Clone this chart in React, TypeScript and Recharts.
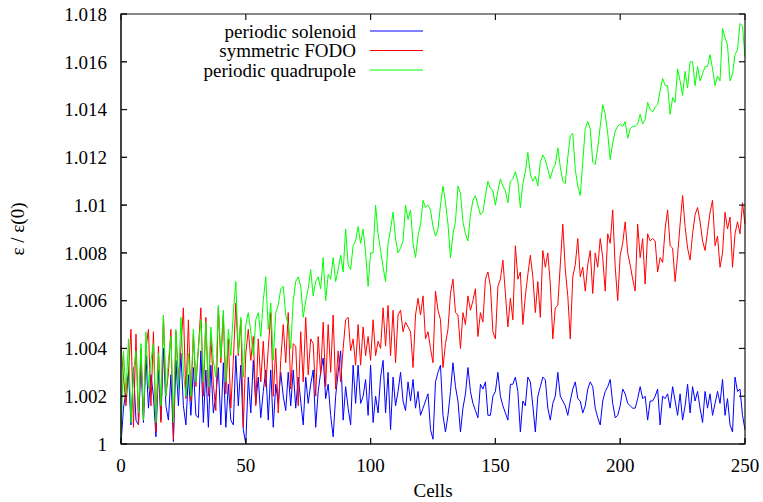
import React from 'react';
import { LineChart, Line, XAxis, YAxis, Legend } from 'recharts';

// Emittance ratio per cell
const solenoid: number[] = [
  1.0000, 1.0015, 1.0022, 1.0030, 1.0008, 1.0032, 1.0010, 1.0008, 1.0034, 1.0009,
  1.0037, 1.0015, 1.0029, 1.0020, 1.0003, 1.0031, 1.0010, 1.0040, 1.0016, 1.0010,
  1.0029, 1.0001, 1.0035, 1.0016, 1.0038, 1.0016, 1.0008, 1.0029, 1.0012, 1.0032,
  1.0012, 1.0011, 1.0039, 1.0009, 1.0031, 1.0007, 1.0033, 1.0013, 1.0020, 1.0032,
  1.0008, 1.0034, 1.0007, 1.0025, 1.0010, 1.0008, 1.0037, 1.0016, 1.0033, 1.0006,
  1.0000, 1.0028, 1.0013, 1.0035, 1.0017, 1.0028, 1.0011, 1.0022, 1.0031, 1.0010,
  1.0031, 1.0007, 1.0025, 1.0017, 1.0030, 1.0020, 1.0014, 1.0030, 1.0016, 1.0031,
  1.0015, 1.0028, 1.0018, 1.0008, 1.0028, 1.0017, 1.0025, 1.0031, 1.0007, 1.0022,
  1.0030, 1.0036, 1.0019, 1.0025, 1.0012, 1.0003, 1.0020, 1.0030, 1.0039, 1.0010,
  1.0024, 1.0015, 1.0008, 1.0033, 1.0017, 1.0033, 1.0017, 1.0020, 1.0027, 1.0012,
  1.0033, 1.0009, 1.0020, 1.0013, 1.0028, 1.0035, 1.0013, 1.0030, 1.0006, 1.0028,
  1.0016, 1.0022, 1.0030, 1.0018, 1.0014, 1.0026, 1.0018, 1.0027, 1.0015, 1.0022,
  1.0012, 1.0015, 1.0018, 1.0021, 1.0006, 1.0002, 1.0026, 1.0030, 1.0033, 1.0012,
  1.0005, 1.0012, 1.0022, 1.0034, 1.0024, 1.0018, 1.0005, 1.0015, 1.0021, 1.0032,
  1.0022, 1.0017, 1.0014, 1.0011, 1.0025, 1.0023, 1.0026, 1.0012, 1.0012, 1.0020,
  1.0022, 1.0030, 1.0020, 1.0016, 1.0013, 1.0010, 1.0025, 1.0025, 1.0028, 1.0022,
  1.0005, 1.0018, 1.0016, 1.0028, 1.0026, 1.0016, 1.0005, 1.0020, 1.0024, 1.0028,
  1.0027, 1.0015, 1.0010, 1.0017, 1.0020, 1.0030, 1.0020, 1.0018, 1.0016, 1.0012,
  1.0018, 1.0023, 1.0026, 1.0019, 1.0018, 1.0013, 1.0016, 1.0023, 1.0026, 1.0024,
  1.0015, 1.0011, 1.0008, 1.0018, 1.0022, 1.0024, 1.0027, 1.0017, 1.0011, 1.0012,
  1.0016, 1.0023, 1.0021, 1.0017, 1.0016, 1.0015, 1.0015, 1.0019, 1.0024, 1.0019,
  1.0020, 1.0010, 1.0018, 1.0018, 1.0020, 1.0023, 1.0008, 1.0020, 1.0019, 1.0021,
  1.0015, 1.0024, 1.0018, 1.0012, 1.0021, 1.0010, 1.0016, 1.0025, 1.0013, 1.0024,
  1.0018, 1.0022, 1.0015, 1.0009, 1.0022, 1.0015, 1.0021, 1.0012, 1.0017, 1.0022,
  1.0017, 1.0027, 1.0012, 1.0019, 1.0008, 1.0005, 1.0028, 1.0022, 1.0023, 1.0012,
  1.0006,
];

const fodo: number[] = [
  1.0041, 1.0028, 1.0016, 1.0030, 1.0048, 1.0007, 1.0046, 1.0008, 1.0040, 1.0010,
  1.0040, 1.0048, 1.0016, 1.0047, 1.0005, 1.0041, 1.0009, 1.0054, 1.0020, 1.0030,
  1.0048, 1.0002, 1.0047, 1.0027, 1.0040, 1.0057, 1.0019, 1.0052, 1.0018, 1.0046,
  1.0024, 1.0040, 1.0057, 1.0020, 1.0053, 1.0020, 1.0045, 1.0025, 1.0014, 1.0057,
  1.0034, 1.0054, 1.0021, 1.0044, 1.0015, 1.0035, 1.0059, 1.0037, 1.0052, 1.0007,
  1.0038, 1.0048, 1.0035, 1.0045, 1.0016, 1.0044, 1.0026, 1.0043, 1.0024, 1.0040,
  1.0055, 1.0020, 1.0040, 1.0013, 1.0035, 1.0050, 1.0034, 1.0055, 1.0023, 1.0042,
  1.0041, 1.0016, 1.0047, 1.0026, 1.0053, 1.0029, 1.0044, 1.0042, 1.0020, 1.0045,
  1.0029, 1.0051, 1.0024, 1.0050, 1.0030, 1.0054, 1.0023, 1.0039, 1.0026, 1.0040,
  1.0052, 1.0053, 1.0039, 1.0044, 1.0033, 1.0050, 1.0033, 1.0049, 1.0037, 1.0045,
  1.0035, 1.0052, 1.0037, 1.0043, 1.0040, 1.0057, 1.0041, 1.0058, 1.0037, 1.0056,
  1.0034, 1.0054, 1.0056, 1.0047, 1.0051, 1.0049, 1.0047, 1.0032, 1.0054, 1.0061,
  1.0054, 1.0062, 1.0044, 1.0047, 1.0040, 1.0034, 1.0064, 1.0056, 1.0052, 1.0032,
  1.0042, 1.0048, 1.0063, 1.0069, 1.0055, 1.0054, 1.0040, 1.0055, 1.0050, 1.0062,
  1.0056, 1.0060, 1.0065, 1.0045, 1.0055, 1.0051, 1.0069, 1.0072, 1.0066, 1.0047,
  1.0044, 1.0066, 1.0069, 1.0077, 1.0063, 1.0049, 1.0061, 1.0052, 1.0083, 1.0069,
  1.0072, 1.0050, 1.0062, 1.0071, 1.0079, 1.0070, 1.0055, 1.0068, 1.0053, 1.0081,
  1.0074, 1.0080, 1.0067, 1.0044, 1.0057, 1.0058, 1.0075, 1.0092, 1.0073, 1.0062,
  1.0044, 1.0070, 1.0075, 1.0086, 1.0070, 1.0074, 1.0064, 1.0075, 1.0081, 1.0063,
  1.0080, 1.0074, 1.0086, 1.0078, 1.0064, 1.0088, 1.0084, 1.0098, 1.0074, 1.0060,
  1.0079, 1.0084, 1.0093, 1.0080, 1.0075, 1.0069, 1.0064, 1.0092, 1.0078, 1.0086,
  1.0067, 1.0088, 1.0085, 1.0086, 1.0085, 1.0072, 1.0078, 1.0076, 1.0090, 1.0098,
  1.0083, 1.0082, 1.0068, 1.0079, 1.0092, 1.0104, 1.0091, 1.0082, 1.0077, 1.0088,
  1.0096, 1.0099, 1.0093, 1.0085, 1.0081, 1.0089, 1.0097, 1.0102, 1.0083, 1.0087,
  1.0074, 1.0080, 1.0097, 1.0090, 1.0095, 1.0074, 1.0088, 1.0093, 1.0088, 1.0101,
  1.0092,
];

const quadrupole: number[] = [
  1.0000, 1.0039, 1.0021, 1.0044, 1.0009, 1.0030, 1.0039, 1.0013, 1.0042, 1.0010,
  1.0047, 1.0023, 1.0035, 1.0042, 1.0009, 1.0038, 1.0016, 1.0054, 1.0020, 1.0035,
  1.0045, 1.0009, 1.0048, 1.0023, 1.0053, 1.0030, 1.0020, 1.0038, 1.0020, 1.0048,
  1.0026, 1.0040, 1.0052, 1.0026, 1.0051, 1.0024, 1.0049, 1.0035, 1.0028, 1.0058,
  1.0036, 1.0056, 1.0026, 1.0048, 1.0037, 1.0055, 1.0068, 1.0038, 1.0053, 1.0028,
  1.0050, 1.0055, 1.0047, 1.0037, 1.0052, 1.0055, 1.0045, 1.0060, 1.0070, 1.0048,
  1.0059, 1.0035, 1.0055, 1.0058, 1.0065, 1.0066, 1.0054, 1.0050, 1.0040, 1.0060,
  1.0068, 1.0070, 1.0066, 1.0053, 1.0060, 1.0065, 1.0073, 1.0062, 1.0068, 1.0070,
  1.0065, 1.0078, 1.0060, 1.0071, 1.0069, 1.0078, 1.0068, 1.0073, 1.0079, 1.0072,
  1.0090, 1.0075, 1.0073, 1.0083, 1.0085, 1.0091, 1.0084, 1.0090, 1.0080, 1.0066,
  1.0080, 1.0080, 1.0100, 1.0088, 1.0081, 1.0074, 1.0068, 1.0084, 1.0090, 1.0097,
  1.0086, 1.0080, 1.0082, 1.0085, 1.0100, 1.0094, 1.0098, 1.0084, 1.0078, 1.0087,
  1.0092, 1.0102, 1.0099, 1.0100, 1.0098, 1.0091, 1.0087, 1.0090, 1.0100, 1.0108,
  1.0101, 1.0092, 1.0078, 1.0088, 1.0093, 1.0108, 1.0105, 1.0093, 1.0088, 1.0085,
  1.0096, 1.0102, 1.0104, 1.0100, 1.0096, 1.0097, 1.0104, 1.0110, 1.0107, 1.0106,
  1.0100, 1.0106, 1.0111, 1.0108, 1.0106, 1.0101, 1.0110, 1.0111, 1.0114, 1.0110,
  1.0099, 1.0109, 1.0114, 1.0122, 1.0113, 1.0110, 1.0112, 1.0108, 1.0118, 1.0121,
  1.0119, 1.0115, 1.0111, 1.0115, 1.0117, 1.0124, 1.0116, 1.0110, 1.0109, 1.0120,
  1.0129, 1.0130, 1.0115, 1.0108, 1.0104, 1.0118, 1.0132, 1.0135, 1.0132, 1.0118,
  1.0117, 1.0124, 1.0133, 1.0142, 1.0138, 1.0130, 1.0119, 1.0126, 1.0131, 1.0133,
  1.0134, 1.0133, 1.0135, 1.0128, 1.0132, 1.0133, 1.0133, 1.0134, 1.0138, 1.0134,
  1.0136, 1.0143, 1.0140, 1.0139, 1.0141, 1.0142, 1.0148, 1.0153, 1.0150, 1.0150,
  1.0138, 1.0145, 1.0143, 1.0157, 1.0152, 1.0146, 1.0156, 1.0149, 1.0160, 1.0160,
  1.0150, 1.0158, 1.0152, 1.0155, 1.0158, 1.0158, 1.0163, 1.0157, 1.0150, 1.0154,
  1.0152, 1.0174, 1.0170, 1.0167, 1.0152, 1.0155, 1.0163, 1.0165, 1.0176, 1.0175,
  1.0162,
];

const seriesNames = ['periodic solenoid', 'symmetric FODO', 'periodic quadrupole'];
const seriesColors = ['#0000ff', '#ff0000', '#00ff00'];
const xTicks = [0, 50, 100, 150, 200, 250];
const yTicks = [1, 1.002, 1.004, 1.006, 1.008, 1.01, 1.012, 1.014, 1.016, 1.018];
const xLabel = 'Cells';
const yLabel = 'ε / ε(0)';

const data = solenoid.map((v, i) => ({
  cell: i,
  solenoid: v,
  fodo: fodo[i],
  quadrupole: quadrupole[i],
}));

const FONT = "'Liberation Serif', 'Times New Roman', serif";
const FS = 19;
const INK = '#141414';
const W = 763;
const H = 502;
const MARGIN = { top: 14, right: 18, bottom: 0, left: 0 };
const YW = 121;
const XH = 58;
const X0 = xTicks[0];
const X1 = xTicks[xTicks.length - 1];
const Y0 = yTicks[0];
const Y1 = yTicks[yTicks.length - 1];
const PL = MARGIN.left + YW;
const PT = MARGIN.top;
const PW = W - MARGIN.left - MARGIN.right - YW;
const PH = H - MARGIN.top - MARGIN.bottom - XH;
const TICK_PX = 6;
const YMID = PT + PH / 2;
// same linear mapping as the chart's axes, used only for the frame/tick overlay
const px = (x: number) => PL + ((x - X0) / (X1 - X0)) * PW;
const py = (y: number) => PT + PH - ((y - Y0) / (Y1 - Y0)) * PH;

const fmtY = (v: number) => String(Number(v.toFixed(3)));
const tickStyle = { fontFamily: FONT, fontSize: FS, fill: '#000' };

// Legend box plus the gnuplot-style frame with inward tick marks on all four sides
const renderLegend = () => (
  <svg width={W} height={H} style={{ display: 'block', overflow: 'visible', pointerEvents: 'none' }}>
    <path
      d={`M${PL},${PT}H${PL + PW}V${PT + PH}H${PL}Z`}
      fill="none"
      stroke={INK}
      strokeWidth={1.2}
    />
    {xTicks.map((t) => (
      <g key={`x${t}`}>
        <path d={`M${px(t)},${PT + PH}V${PT + PH - TICK_PX}`} stroke={INK} strokeWidth={1.2} fill="none" />
        <path d={`M${px(t)},${PT}V${PT + TICK_PX}`} stroke={INK} strokeWidth={1.2} fill="none" />
      </g>
    ))}
    {yTicks.map((t) => (
      <g key={`y${t}`}>
        <path d={`M${PL},${py(t)}H${PL + TICK_PX}`} stroke={INK} strokeWidth={1.2} fill="none" />
        <path d={`M${PL + PW},${py(t)}H${PL + PW - TICK_PX}`} stroke={INK} strokeWidth={1.2} fill="none" />
      </g>
    ))}
    {seriesNames.map((name, i) => (
      <g key={name}>
        <text
          x={356}
          y={31 + i * 19.5}
          textAnchor="end"
          dominantBaseline="central"
          fontFamily={FONT}
          fontSize={FS}
          fill="#000"
        >
          {name}
        </text>
        <line x1={370} x2={423} y1={31 + i * 19.5} y2={31 + i * 19.5} stroke={seriesColors[i]} strokeWidth={1} />
      </g>
    ))}
  </svg>
);

export default function App() {
  return (
    <div style={{ position: 'absolute', left: 0, top: 0, width: W, height: H, background: '#fff' }}>
      <LineChart width={W} height={H} data={data} margin={MARGIN}>
        <XAxis
          dataKey="cell"
          type="number"
          domain={[X0, X1]}
          ticks={xTicks}
          height={XH}
          tickSize={-6}
          tickMargin={21}
          tick={tickStyle}
          axisLine={{ stroke: INK, strokeWidth: 1 }}
          tickLine={{ stroke: INK }}
          interval={0}
          label={{
            value: xLabel,
            position: 'insideBottom',
            offset: 5,
            fontFamily: FONT,
            fontSize: FS,
            fill: '#000',
          }}
        />
        <YAxis
          type="number"
          domain={[Y0, Y1]}
          ticks={yTicks}
          width={YW}
          tickSize={-6}
          tickMargin={20}
          tick={tickStyle}
          tickFormatter={fmtY}
          axisLine={{ stroke: INK, strokeWidth: 1 }}
          tickLine={{ stroke: INK }}
          interval={0}
          label={{
            content: () => (
              <text
                x={17}
                y={YMID}
                transform={`rotate(-90 17 ${YMID})`}
                textAnchor="middle"
                dominantBaseline="central"
                fontFamily={FONT}
                fontSize={FS}
                fill="#000"
              >
                {yLabel}
              </text>
            ),
          }}
        />
        <Legend
          layout="vertical"
          align="center"
          verticalAlign="middle"
          content={renderLegend}
          wrapperStyle={{ position: 'absolute', left: 0, top: 0, width: W, height: H, pointerEvents: 'none' }}
        />
        <Line dataKey="solenoid" name={seriesNames[0]} stroke={seriesColors[0]} strokeWidth={1} dot={false} type="linear" isAnimationActive={false} />
        <Line dataKey="fodo" name={seriesNames[1]} stroke={seriesColors[1]} strokeWidth={1} dot={false} type="linear" isAnimationActive={false} />
        <Line dataKey="quadrupole" name={seriesNames[2]} stroke={seriesColors[2]} strokeWidth={1} dot={false} type="linear" isAnimationActive={false} />
      </LineChart>
    </div>
  );
}
